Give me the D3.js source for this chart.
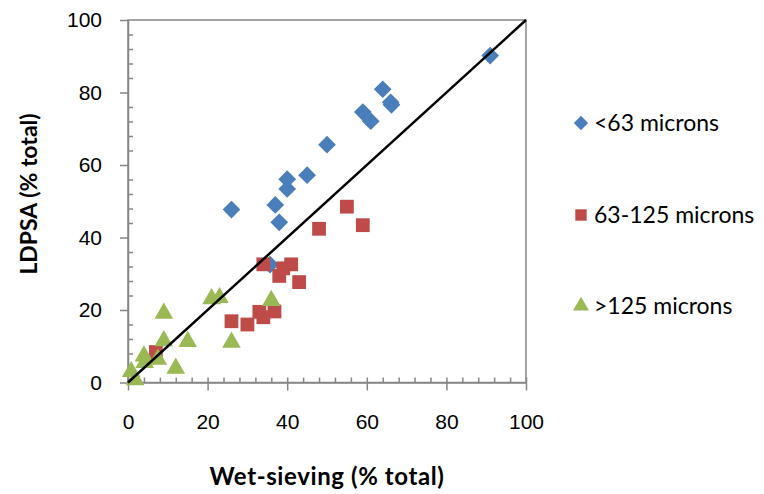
<!DOCTYPE html>
<html>
<head>
<meta charset="utf-8">
<script src="https://cdn.jsdelivr.net/npm/d3@7"></script>
<style>
  body { margin: 0; background: #fff; }
  svg { font-family: Lato, "Open Sans", sans-serif; }
  .axis path, .axis line { stroke: #868686; stroke-width: 1.5; }
  .axis text { font-size: 21px; fill: #000; }
  .title { font-weight: bold; }
  .legend text { font-size: 23px; }
</style>
</head>
<body>
<div id="chart"></div>
<script>
// Series: [wet-sieving, LDPSA] in % total
var fine = [
  [26, 47.7], [35.7, 32.5], [37, 49], [38, 44.2], [40, 56.1], [40, 53.4],
  [45, 57.2], [50, 65.6], [59, 74.6], [61, 72.1], [64, 80.9], [66, 77.3],
  [66.2, 76.6], [91, 90.2]
];
var medium = [
  [7, 8.4], [26, 16.9], [30, 16], [33, 19.5], [34, 18], [36.8, 19.6],
  [34, 32.6], [38, 29.4], [39, 31.5], [41, 32.6], [43, 27.7], [48, 42.4],
  [55, 48.5], [59, 43.4]
];
var coarse = [
  [0.8, 3], [1.8, 0.7], [4, 7.3], [4.2, 5.5], [7.5, 6.4], [9, 11.5],
  [9, 19.1], [12, 3.9], [15, 11.3], [21, 23.1], [23, 23.4], [26, 11.1],
  [36, 22.6]
];
var seriesNames = ['<63 microns', '63-125 microns', '>125 microns'];
var majorTicks = [0, 20, 40, 60, 80, 100];
var oneToOne = [[0, 0], [100, 100]];

var width = 764, height = 494;
var plot = { left: 128, top: 20, right: 526, bottom: 382.5 };

var colors = ['#4A7EBB', '#BE4B48', '#98B954'];
var symbols = [d3.symbolDiamond2, d3.symbolSquare, d3.symbolTriangle];

var svg = d3.select('#chart').append('svg')
  .attr('width', width)
  .attr('height', height);

var x = d3.scaleLinear().domain([0, 100]).range([plot.left, plot.right]);
var y = d3.scaleLinear().domain([0, 100]).range([plot.bottom, plot.top]);

// plot frame
svg.append('rect')
  .attr('x', plot.left).attr('y', plot.top)
  .attr('width', plot.right - plot.left).attr('height', plot.bottom - plot.top)
  .attr('fill', 'none').attr('stroke', '#868686').attr('stroke-width', 1.5);

// minor ticks (inside)
var minorX = d3.range(0, 101, 4);
var minorY = d3.range(0, 101, 4).filter((d) => d % 20 !== 0);
svg.append('g').attr('class', 'axis')
  .attr('transform', `translate(0,${plot.bottom})`)
  .call(d3.axisBottom(x).tickValues(minorX).tickSize(-5).tickSizeOuter(0).tickFormat(''))
  .call((g) => g.select('.domain').remove());
svg.append('g').attr('class', 'axis')
  .attr('transform', `translate(${plot.left},0)`)
  .call(d3.axisLeft(y).tickValues(minorY).tickSize(-5).tickSizeOuter(0).tickFormat(''))
  .call((g) => g.select('.domain').remove());

// major axes
svg.append('g').attr('class', 'axis')
  .attr('transform', `translate(0,${plot.bottom})`)
  .call(d3.axisBottom(x).tickValues(majorTicks).tickSize(8).tickSizeOuter(0).tickPadding(24));
svg.append('g').attr('class', 'axis')
  .attr('transform', `translate(${plot.left},0)`)
  .call(d3.axisLeft(y).tickValues(majorTicks).tickSize(8).tickSizeOuter(0).tickPadding(18));

// markers
[fine, medium, coarse].forEach(function (data, i) {
  svg.append('g')
    .selectAll('path')
    .data(data)
    .join('path')
    .attr('transform', (d) => `translate(${x(d[0])},${y(d[1])})`)
    .attr('d', d3.symbol().type(symbols[i]).size(i === 0 ? 200 : i === 1 ? 190 : 150))
    .attr('fill', colors[i]);
});

// 1:1 line
svg.append('path')
  .datum(oneToOne)
  .attr('d', d3.line().x((d) => x(d[0])).y((d) => y(d[1])))
  .attr('stroke', '#000')
  .attr('stroke-width', 2.5)
  .attr('fill', 'none');

// axis titles
svg.append('text').attr('class', 'title')
  .attr('x', 327)
  .attr('y', 485)
  .attr('text-anchor', 'middle')
  .style('font-size', '24px')
  .style('letter-spacing', '0.6px')
  .text('Wet-sieving (% total)');
svg.append('text').attr('class', 'title')
  .attr('transform', 'translate(37,194) rotate(-90)')
  .attr('text-anchor', 'middle')
  .style('font-size', '23px')
  .text('LDPSA (% total)');

// legend
var legendY = [123, 215, 306];
var legend = svg.append('g').attr('class', 'legend');
seriesNames.forEach(function (name, i) {
  legend.append('path')
    .attr('transform', `translate(581,${legendY[i]})`)
    .attr('d', d3.symbol().type(symbols[i]).size(i === 2 ? 110 : 130))
    .attr('fill', colors[i]);
  legend.append('text')
    .attr('x', 594)
    .attr('y', legendY[i] + 8)
    .text(name);
});
</script>
</body>
</html>
